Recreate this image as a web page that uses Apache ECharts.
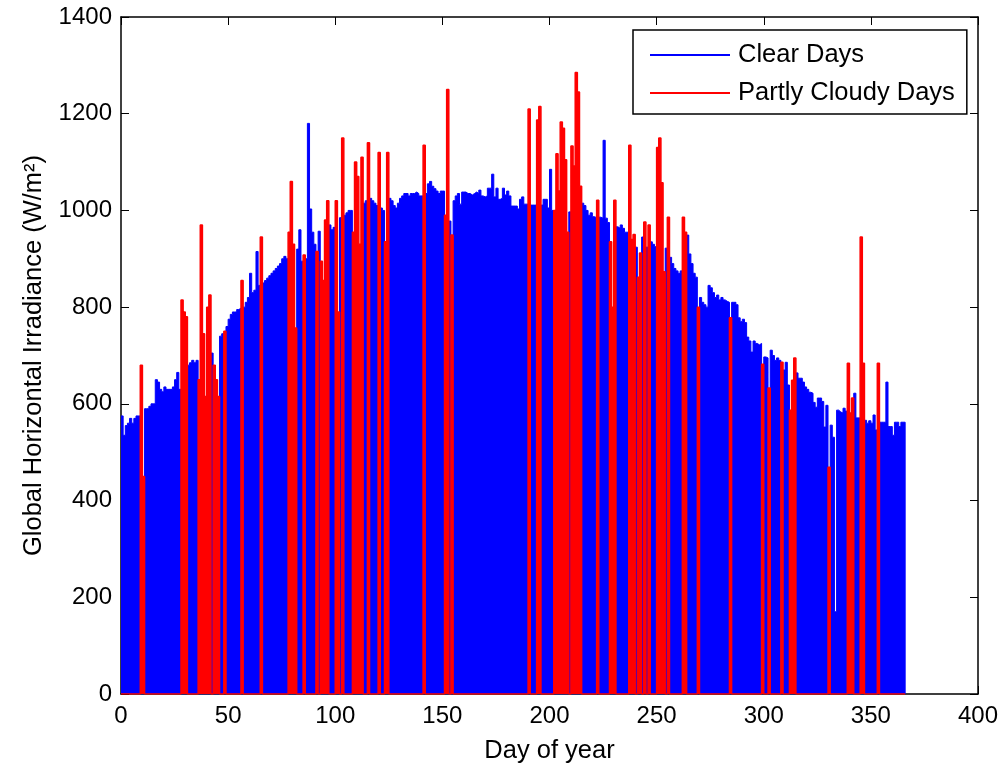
<!DOCTYPE html>
<html>
<head>
<meta charset="utf-8">
<script src="https://cdn.jsdelivr.net/npm/echarts@6/dist/echarts.min.js"></script>
<style>
html,body{margin:0;padding:0;background:#fff;}
#chart{width:1007px;height:771px;}
</style>
</head>
<body>
<div id="chart"></div>
<script>
// Daily peak global horizontal irradiance (W/m2) on clear days, by day of year 0..365 (0 = not a clear day)
const clearDays = [
 575,535,555,560,570,560,570,575,575,0,
 0,590,590,595,600,600,650,645,630,625,
 635,630,630,630,635,650,665,630,0,0,
 0,680,685,690,685,690,0,0,0,0,
 0,0,705,0,0,0,740,745,0,760,
 775,785,790,790,795,798,0,800,810,820,
 870,830,835,915,845,0,850,855,860,865,
 870,875,880,885,890,900,905,900,0,0,
 0,0,920,960,895,0,900,1180,1003,955,
 930,0,957,0,0,0,0,970,960,965,
 0,0,985,0,990,995,1000,1000,0,0,
 0,0,0,1015,1020,0,1025,1020,1015,1010,
 0,1005,1000,0,0,1025,1020,1010,1005,1015,
 1025,1030,1035,1035,1030,1035,1035,1038,1035,1030,
 1030,0,1035,1055,1060,1050,1045,1040,1035,1040,
 1040,0,0,978,0,1020,1030,1035,1013,1038,
 1038,1035,1035,1032,1035,1038,1035,1042,1030,1028,
 1030,1046,1046,1075,1028,1046,1023,1025,1046,1032,
 1040,1030,1009,1009,1009,1003,1023,1028,1013,1013,
 0,1011,1011,1011,0,0,1011,1023,1023,1005,
 1085,1000,0,0,0,0,0,0,0,997,
 0,0,0,0,0,1015,1010,1000,990,995,
 987,985,0,986,984,1145,984,975,0,0,
 0,966,963,970,963,955,955,0,0,0,
 924,0,0,945,0,924,0,935,930,925,
 0,0,0,0,922,0,903,890,880,875,
 870,875,0,0,949,910,890,870,862,0,
 820,810,805,800,845,840,830,820,825,815,
 820,815,812,810,0,810,810,805,778,770,
 775,768,738,730,707,730,725,722,725,0,
 697,695,0,711,700,690,695,690,0,670,
 686,639,0,0,0,664,653,653,645,635,
 630,624,622,603,593,612,612,605,552,597,
 0,556,531,170,587,583,581,591,585,0,
 0,0,622,571,571,0,0,566,560,565,
 560,577,546,0,562,562,562,645,553,553,
 535,562,562,553,562,562
];
// Partly cloudy days: [day of year, daily peak irradiance W/m2]
const partlyCloudyDays = [
 [9,680],[10,450],[28,815],[29,790],[30,780],[36,650],[37,970],[38,745],[39,615],[40,800],
 [41,825],[43,680],[44,650],[45,615],[48,750],[56,855],[65,945],[78,955],[79,1060],[80,930],
 [81,757],[85,908],[91,915],[93,895],[94,855],[95,980],[96,1020],[100,1020],[101,790],[103,1150],
 [108,955],[109,1100],[110,1070],[111,930],[112,1110],[115,1140],[120,1120],[123,935],[124,1120],[141,1135],
 [151,990],[152,1250],[154,949],[190,1210],[194,1187],[195,1215],[202,1000],[203,1117],[204,1040],[205,1183],
 [206,1170],[207,1105],[208,955],[210,1133],[211,1092],[212,1285],[213,1245],[214,1050],[222,1021],[228,935],
 [229,800],[230,1021],[237,1135],[238,940],[239,950],[241,862],[242,912],[244,976],[246,970],[250,1130],
 [251,1150],[252,1057],[253,873],[255,986],[262,986],[263,955],[269,800],[284,778],[299,682],[302,633],
 [308,686],[312,587],[313,649],[314,695],[330,469],[339,684],[340,581],[341,612],[345,945],[346,684],
 [353,684]
];
const xTicks = [0,50,100,150,200,250,300,350,400];
const yTicks = [0,200,400,600,800,1000,1200,1400];
const seriesNames = ['Clear Days','Partly Cloudy Days'];

// build step data: each day's value spans [day, day+1]
const nDays = clearDays.length;
const cloudyFull = new Array(nDays).fill(0);
partlyCloudyDays.forEach(p => { cloudyFull[p[0]] = p[1]; });
const blueData = clearDays.map((v, d) => [d, v]).concat([[nDays, 0]]);
const redData = cloudyFull.map((v, d) => [d, v]).concat([[nDays, 0]]);

const FONT = 'Liberation Sans, Arial, Helvetica, sans-serif';
const chart = echarts.init(document.getElementById('chart'), null, {renderer: 'canvas'});
const axisCommon = {
  axisLine: {show: true, onZero: false, lineStyle: {color: '#000', width: 1.5}},
  axisTick: {show: true, inside: true, length: 8, lineStyle: {color: '#000', width: 1}},
  splitLine: {show: false}
};
const plainNum = v => String(v);
chart.setOption({
  animation: false,
  backgroundColor: '#fff',
  textStyle: {fontFamily: FONT},
  grid: {left: 121, right: 29, top: 17, bottom: 77, containLabel: false},
  legend: {
    data: seriesNames,
    orient: 'vertical',
    left: 633, top: 30,
    padding: [12, 12, 8, 17],
    itemGap: 12,
    itemWidth: 80, itemHeight: 2,
    icon: 'rect',
    borderColor: '#000', borderWidth: 1.5,
    backgroundColor: '#fff',
    textStyle: {fontSize: 25.5, color: '#000', fontFamily: FONT, lineHeight: 26, padding: [0,0,0,3]}
  },
  xAxis: [
    Object.assign({type: 'value', min: xTicks[0], max: xTicks[xTicks.length-1], interval: 50, position: 'bottom',
      name: 'Day of year', nameLocation: 'middle', nameGap: 44,
      nameTextStyle: {fontSize: 25.5, color: '#000', fontFamily: FONT},
      axisLabel: {fontSize: 24, color: '#000', margin: 10, fontFamily: FONT, formatter: plainNum}}, axisCommon),
    Object.assign({type: 'value', min: xTicks[0], max: xTicks[xTicks.length-1], interval: 50, position: 'top',
      axisLabel: {show: false}}, axisCommon)
  ],
  yAxis: [
    Object.assign({type: 'value', min: yTicks[0], max: yTicks[yTicks.length-1], interval: 200, position: 'left',
      name: 'Global Horizontal Irradiance (W/m²)', nameLocation: 'middle', nameRotate: 90, nameGap: 74,
      nameTextStyle: {fontSize: 25.5, color: '#000', fontFamily: FONT},
      axisLabel: {fontSize: 24, color: '#000', margin: 9, fontFamily: FONT, formatter: plainNum}}, axisCommon),
    Object.assign({type: 'value', min: yTicks[0], max: yTicks[yTicks.length-1], interval: 200, position: 'right',
      axisLabel: {show: false}}, axisCommon)
  ],
  series: [
    {name: seriesNames[0], type: 'line', step: 'end', data: blueData, symbol: 'none',
      xAxisIndex: 0, yAxisIndex: 0,
      color: '#0000ff', lineStyle: {color: '#0000ff', width: 1}, areaStyle: {color: '#0000ff', opacity: 1}, z: 2},
    {name: seriesNames[1], type: 'line', step: 'end', data: redData, symbol: 'none',
      xAxisIndex: 0, yAxisIndex: 0,
      color: '#ff0000', lineStyle: {color: '#ff0000', width: 1.5}, areaStyle: {color: '#ff0000', opacity: 1}, z: 3}
  ]
});
</script>
</body>
</html>
